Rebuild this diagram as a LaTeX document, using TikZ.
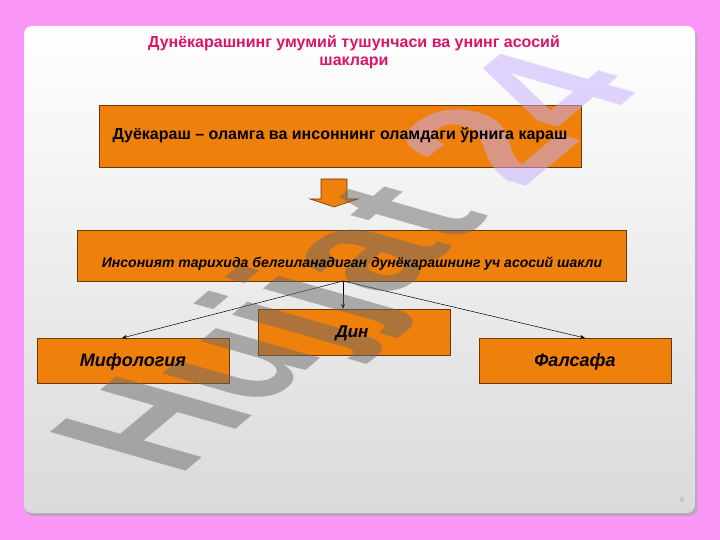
\documentclass[tikz,border=0pt]{standalone}
\usepackage{fontspec}
\setmainfont{Liberation Sans}
\usetikzlibrary{arrows.meta}
\definecolor{bgpink}{RGB}{250,150,245}
\definecolor{slideshadow}{RGB}{185,165,190}
\definecolor{slidebottom}{RGB}{218,218,218}
\definecolor{boxor}{RGB}{240,128,12}
\definecolor{boxedge}{RGB}{110,55,10}
\definecolor{titlecol}{RGB}{220,20,105}
\definecolor{wmgray}{RGB}{105,105,105}
\definecolor{wmlav}{RGB}{195,172,255}
\definecolor{pagenum}{RGB}{170,170,170}
\begin{document}
\begin{tikzpicture}[x=1pt,y=-1pt,
  box/.style={draw=boxedge, line width=0.8pt, fill=boxor, inner sep=0pt},
  conn/.style={-{Stealth[length=5pt,width=4pt]}, line width=0.5pt, draw=black},
  lbl/.style={inner sep=0pt, text=black}]
\useasboundingbox (0,0) rectangle (720,540);
\fill[bgpink] (0,0) rectangle (720,540);
% slide
\fill[slideshadow, rounded corners=8pt] (26,29) rectangle (697,516);
\shade[rounded corners=8pt, top color=white, bottom color=slidebottom] (24,26) rectangle (695,513);
% boxes
\node[box, minimum width=482pt, minimum height=62pt] (b1) at (340,136) {};
\draw[fill=boxor, draw=boxedge, line width=0.6pt] (321,179) -- (347,179) -- (347,199) -- (358,199) -- (334,207) -- (310,199) -- (321,199) -- cycle;
\node[box, minimum width=549pt, minimum height=51pt] (b2) at (351.5,255.5) {};
\node[box, minimum width=192pt, minimum height=46pt] (din) at (354,332) {};
\node[box, minimum width=192pt, minimum height=45pt] (mif) at (133,360.5) {};
\node[box, minimum width=192pt, minimum height=45pt] (fal) at (575,360.5) {};
% connectors
\coordinate (hub) at (343,281);
\coordinate (mifin) at (122,338);
\coordinate (dinin) at (343,309);
\coordinate (falin) at (585,338);
\draw[conn] (hub) -- (mifin);
\draw[conn] (hub) -- (dinin);
\draw[conn] (hub) -- (falin);
% watermark
\begin{scope}[cm={1.126,0.945,-1.97,0.564,(178,478)}]
  \node[transform shape, anchor=base west, inner sep=0pt, text opacity=0.5,
        font=\bfseries\fontsize{100}{100}\selectfont] (wm) at (0,0)
        {\textcolor{wmgray}{Hujjat} \textcolor{wmlav}{24}};
\end{scope}
% title
\node[font=\bfseries\fontsize{16}{18}\selectfont, text=titlecol, align=center, inner sep=0pt] (title) at (354,52) {Дунёкарашнинг умумий тушунчаси ва унинг асосий\\шаклари};
% labels
\node[lbl, font=\bfseries\fontsize{16}{18}\selectfont] (t1) at (340,135) {Дуёкараш – оламга ва инсоннинг оламдаги ўрнига караш};
\node[lbl, font=\bfseries\itshape\fontsize{14}{16}\selectfont] (t2) at (352,264) {Инсоният тарихида белгиланадиган дунёкарашнинг уч асосий шакли};
\node[lbl, font=\bfseries\itshape\fontsize{17}{20}\selectfont] (tdin) at (352,333) {Дин};
\node[lbl, font=\bfseries\itshape\fontsize{18}{20}\selectfont] (tmif) at (133,362) {Мифология};
\node[lbl, font=\bfseries\itshape\fontsize{18}{20}\selectfont] (tfal) at (575,362) {Фалсафа};
% page number
\node[font=\fontsize{7}{8}\selectfont, text=pagenum, inner sep=0pt] (pg) at (682,500) {8};
\end{tikzpicture}
\end{document}
